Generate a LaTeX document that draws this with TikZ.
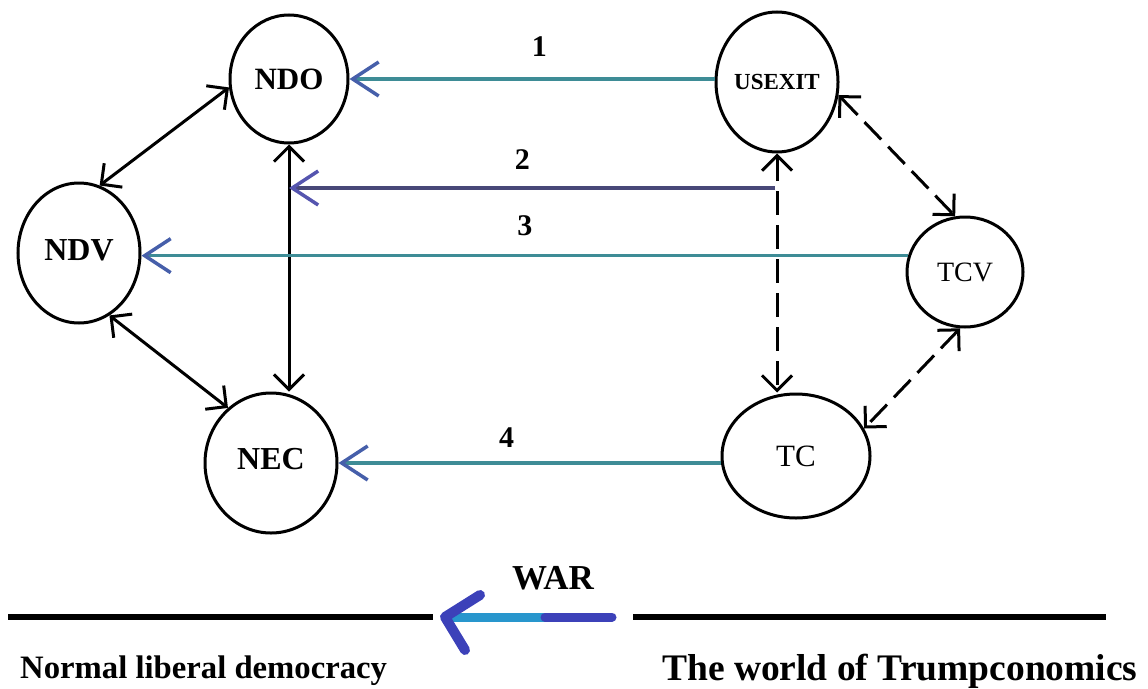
\documentclass[tikz,border=0pt]{standalone}
\usepackage{fontspec}
\setmainfont{Liberation Serif}
\usepackage{tikz}
\usetikzlibrary{arrows.meta,shapes.geometric,positioning}
\definecolor{linkteal}{RGB}{62,140,150}
\definecolor{tipblue}{RGB}{70,95,170}
\definecolor{linkslate}{RGB}{72,72,120}
\definecolor{tipslate}{RGB}{85,85,175}
\definecolor{warcyan}{RGB}{40,150,205}
\definecolor{warblue}{RGB}{60,65,185}
\newcommand{\sz}[1]{\fontsize{#1}{#1}\selectfont}

\begin{document}
\begin{tikzpicture}[x=1pt, y=-1pt,
  state/.style={draw, ellipse, line width=3pt, inner sep=0pt, font=\sz{31}\bfseries},
  link/.style={line width=3.5pt, linkteal, -{Straight Barb[length=26pt, width=34pt, color=tipblue]}},
  pair/.style={line width=3pt, {Straight Barb[length=15pt, width=30pt]}-{Straight Barb[length=15pt, width=30pt]}},
  dashpair/.style={pair, dash pattern=on 24pt off 10pt},
  num/.style={font=\sz{30}\bfseries, text=black},
  side/.style={anchor=base west, inner sep=0pt}
]
\useasboundingbox (0,0) rectangle (1148,688);
% normal side
\node[state, minimum width=118pt, minimum height=128pt] (ndo) at (289,79) {NDO};
\node[state, minimum width=122pt, minimum height=140pt, font=\sz{32}\bfseries] (ndv) at (79,253) {\raisebox{5pt}{NDV}};
\node[state, minimum width=132pt, minimum height=140pt, font=\sz{32}\bfseries] (nec) at (271,463) {\raisebox{9pt}{NEC}};
% trump side
\node[state, minimum width=122pt, minimum height=140pt, font=\sz{23}\bfseries] (usexit) at (777,82) {USEXIT};
\node[state, minimum width=116pt, minimum height=110pt, font=\sz{28}] (tcv) at (965,272) {TCV};
\node[state, minimum width=148pt, minimum height=124pt, font=\sz{31}] (tc) at (796,456) {TC};
% inner links
\draw[pair] (ndo.188) -- (ndv.73);
\draw[pair] (ndv.-64) -- (nec.128);
\draw[pair] (ndo.south) -- (ndo.south |- nec.north);
\draw[dashpair] (usexit.south) -- (usexit.south |- tc.north);
\draw[dashpair] (usexit.-12) -- (tcv.100);
\draw[dashpair] (tcv.-95) -- (tc.22);
% numbered links
\coordinate (from2) at (775,188);
\draw[link] (usexit.west |- ndo.east) -- (ndo.east) node[num, pos=0.48, yshift=32pt] {1};
\draw[link, linkslate, -{Straight Barb[length=26pt, width=34pt, color=tipslate]}] (from2) -- (ndo.south |- from2) node[num, pos=0.52, yshift=28pt] {2};
\draw[link] (tcv.164) -- (ndv.east |- tcv.164) node[num, pos=0.5, yshift=30pt] {3};
\draw[link] (tc.west |- nec.east) -- (nec.east) node[num, pos=0.56, yshift=25pt] {4};
% war
\coordinate (lstart) at (8,617);
\coordinate (lend) at (433,617);
\coordinate (rstart) at (633,617);
\coordinate (rend) at (1106,617);
\draw[line width=6pt] (lstart) -- (lend);
\draw[line width=6pt] (rstart) -- (rend);
\coordinate (wartail) at (612,617);
\coordinate (warmid) at (545,617);
\coordinate (wartip) at (445,617);
\draw[warcyan, line width=9pt] (warmid) -- (wartip);
\draw[warblue, line width=9pt, line cap=round] (wartail) -- (warmid);
\draw[warblue, line width=10pt, line cap=round, line join=round] (480,595) -- (wartip) -- (465,650);
\node[font=\sz{35}\bfseries] (war) at (553,578) {WAR};
\node[side, font=\sz{32.7}\bfseries] (normal) at (20,678) {Normal liberal democracy};
\node[side, font=\sz{37.5}\bfseries] (trump) at (662,680) {The world of Trumpconomics};
\end{tikzpicture}
\end{document}
